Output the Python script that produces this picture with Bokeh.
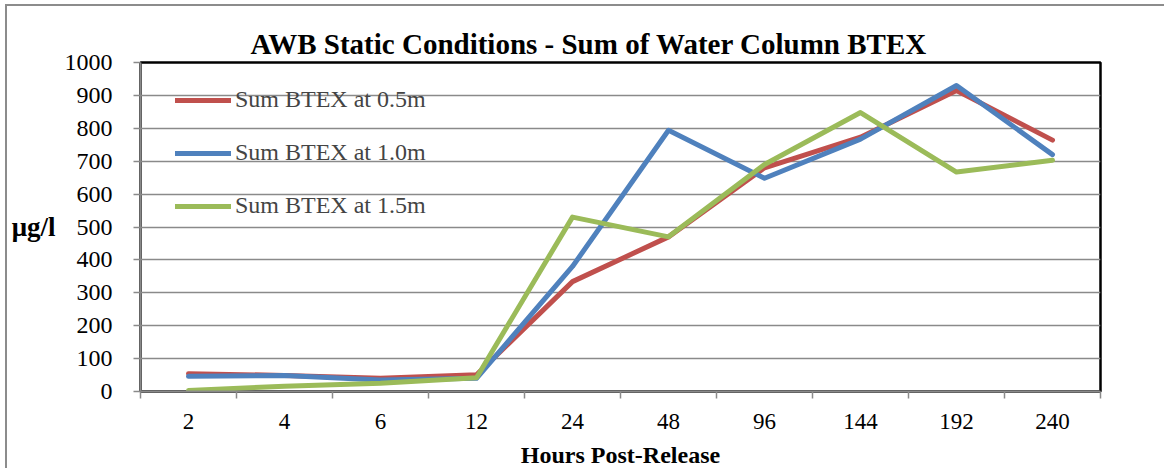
from bokeh.plotting import figure
from bokeh.models import (Range1d, FixedTicker, Legend, LegendItem)
from bokeh.embed import file_html
from bokeh.resources import INLINE

hours = ["2", "4", "6", "12", "24", "48", "96", "144", "192", "240"]
btex_05 = [54, 49, 40, 51, 334, 470, 680, 773, 915, 764]
btex_10 = [46, 49, 35, 40, 380, 794, 648, 767, 930, 720]
btex_15 = [3, 16, 25, 42, 530, 470, 690, 848, 667, 703]
series_names = ["Sum BTEX at 0.5m", "Sum BTEX at 1.0m", "Sum BTEX at 1.5m"]
colors = ["#C0504D", "#4F81BD", "#9BBB59"]
y_ticks = list(range(0, 1001, 100))

xs = [i + 0.5 for i in range(len(hours))]
FONT = "Liberation Serif"

p = figure(width=1159, height=464, output_backend="svg", toolbar_location=None,
           x_range=Range1d(0, len(hours)), y_range=Range1d(0, 1000),
           min_border_left=133, min_border_right=66, min_border_top=56,
           min_border_bottom=78)
p.styles = {"margin-left": "5px", "margin-top": "4px",
            "border-left": "2px solid #8c8c8c", "border-top": "2px solid #8c8c8c"}
p.outline_line_color = "black"
p.outline_line_width = 2.5
p.outline_line_alpha = 1.0

p.title.text = "AWB Static Conditions - Sum of Water Column BTEX"
p.title.text_font = FONT
p.title.text_font_size = "29px"
p.title.text_font_style = "bold"
p.title.text_color = "black"
p.title.align = "left"
p.title.offset = 110
p.title.standoff = 5

renderers = []
for vals, c in zip([btex_05, btex_10, btex_15], colors):
    r = p.line(xs, vals, line_color=c, line_width=5, line_join="round", line_cap="round")
    renderers.append(r)

legend = Legend(items=[LegendItem(label=n, renderers=[r]) for n, r in zip(series_names, renderers)],
                location=(35, 172), border_line_color=None, background_fill_alpha=0,
                label_text_font=FONT, label_text_font_size="24px", glyph_width=56,
                glyph_height=20, label_height=20, spacing=26, padding=0, margin=0,
                label_standoff=4)
p.add_layout(legend, "center")

# grid (interior lines only; frame edges are drawn by outline / axes)
p.xgrid.grid_line_color = None
p.ygrid.ticker = FixedTicker(ticks=y_ticks[1:-1])
p.ygrid.grid_line_color = "#8a8a8a"
p.ygrid.grid_line_width = 1.5

# y axis
p.yaxis.ticker = FixedTicker(ticks=y_ticks)
p.yaxis.axis_line_color = "#8a8a8a"
p.yaxis.axis_line_width = 2
p.yaxis.major_tick_line_color = "#8a8a8a"
p.yaxis.major_tick_line_width = 1.5
p.yaxis.major_tick_out = 7
p.yaxis.major_tick_in = 0
p.yaxis.minor_tick_line_color = None
p.yaxis.major_label_text_font = FONT
p.yaxis.major_label_text_font_size = "24px"
p.yaxis.major_label_text_color = "black"
p.yaxis.major_label_standoff = 21
p.yaxis.axis_label = "\u03bcg/l"
p.yaxis.axis_label_orientation = "horizontal"
p.yaxis.axis_label_text_font = FONT
p.yaxis.axis_label_text_font_size = "27px"
p.yaxis.axis_label_text_font_style = "bold"
p.yaxis.axis_label_text_color = "black"
p.yaxis.axis_label_standoff = 6

# x axis
p.xaxis.ticker = FixedTicker(ticks=xs, minor_ticks=list(range(len(hours) + 1)))
p.xaxis.major_label_overrides = {x: h for x, h in zip(xs, hours)}
p.xaxis.axis_line_color = "#8a8a8a"
p.xaxis.axis_line_width = 2
p.xaxis.major_tick_line_color = None
p.xaxis.major_tick_out = 0
p.xaxis.major_tick_in = 0
p.xaxis.minor_tick_line_color = "#8a8a8a"
p.xaxis.minor_tick_line_width = 1.5
p.xaxis.minor_tick_out = 7
p.xaxis.minor_tick_in = 0
p.xaxis.major_label_text_font = FONT
p.xaxis.major_label_text_font_size = "23px"
p.xaxis.major_label_text_color = "black"
p.xaxis.major_label_standoff = 15
p.xaxis.axis_label = "Hours Post-Release"
p.xaxis.axis_label_text_font = FONT
p.xaxis.axis_label_text_font_size = "24px"
p.xaxis.axis_label_text_font_style = "bold"
p.xaxis.axis_label_text_color = "black"
p.xaxis.axis_label_standoff = 10

open("out.html", "w").write(file_html(p, INLINE))
